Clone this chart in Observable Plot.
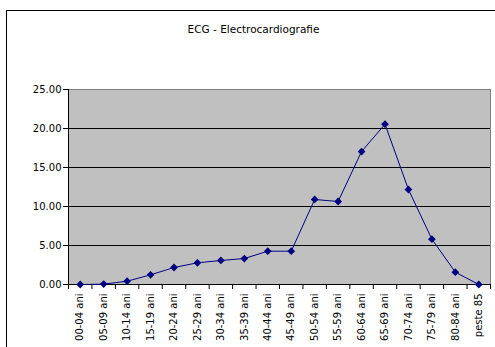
<!DOCTYPE html>
<html>
<head>
<meta charset="utf-8">
<script src="https://cdn.jsdelivr.net/npm/d3@7"></script>
<script src="https://cdn.jsdelivr.net/npm/@observablehq/plot@0.6"></script>
<style>
  html, body { margin: 0; padding: 0; background: #fff; overflow: hidden; }
  #wrap { position: relative; width: 495px; height: 347px; }
  #border { position: absolute; left: 6px; top: 10px; width: 600px; height: 400px; border: 1.5px solid #000; box-sizing: border-box; }
  #chart { position: absolute; left: 0; top: 0; }
</style>
</head>
<body>
<div id="wrap"><div id="border"></div><div id="chart"></div></div>
<script>
// Age groups and ECG values per group
const title = "ECG - Electrocardiografie";
const ageGroups = ["00-04 ani", "05-09 ani", "10-14 ani", "15-19 ani", "20-24 ani", "25-29 ani",
  "30-34 ani", "35-39 ani", "40-44 ani", "45-49 ani", "50-54 ani", "55-59 ani",
  "60-64 ani", "65-69 ani", "70-74 ani", "75-79 ani", "80-84 ani", "peste 85"];
const ecgValues = [0.00, 0.05, 0.42, 1.24, 2.18, 2.78, 3.08, 3.33, 4.27, 4.27,
  10.90, 10.64, 17.05, 20.55, 12.18, 5.81, 1.58, 0.00];
const yTicks = [0, 5, 10, 15, 20, 25];

const data = ageGroups.map((g, i) => ({i, g, v: ecgValues[i]}));
const n = ageGroups.length;
const boundaries = d3.range(n + 1).map(k => k - 0.5);

const chart = Plot.plot({
  width: 495,
  height: 347,
  marginLeft: 68,
  marginRight: 5,
  marginTop: 89,
  marginBottom: 63,
  style: {fontFamily: "DejaVu Sans", fontSize: "10px", color: "#000", background: "transparent"},
  x: {domain: [-0.5, n - 0.5], axis: null},
  y: {domain: [0, 25], axis: null},
  marks: [
    Plot.frame({fill: "#c0c0c0", stroke: "#808080"}),
    Plot.ruleY(yTicks.filter(v => v > 0 && v < 25), {stroke: "#000"}),
    Plot.ruleY([0], {stroke: "#000"}),
    Plot.ruleX([-0.5], {stroke: "#000"}),
    Plot.axisY({ticks: yTicks, tickFormat: d3.format(".2f"), tickSize: 5, tickPadding: 2, label: null}),
    Plot.axisX({ticks: boundaries, tickFormat: () => "", tickSize: 5, label: null}),
    Plot.axisX({ticks: d3.range(n), tickFormat: i => ageGroups[i], tickSize: 0, tickPadding: 9, tickRotate: -90, label: null}),
    Plot.line(data, {x: "i", y: "v", stroke: "#000080", strokeWidth: 1}),
    Plot.dot(data, {x: "i", y: "v", symbol: "diamond2", fill: "#000080", r: 3.5}),
    Plot.text([title], {frameAnchor: "top", dx: -26, dy: -57, lineAnchor: "bottom", fontSize: 10.5, fill: "#000"})
  ]
});
document.getElementById("chart").appendChild(chart);
</script>
</body>
</html>
